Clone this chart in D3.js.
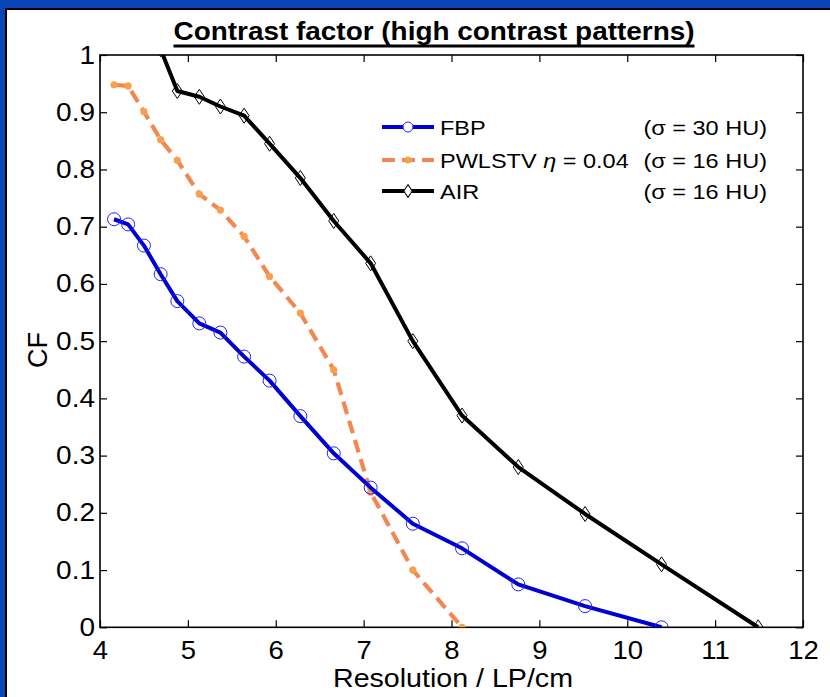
<!DOCTYPE html>
<html>
<head>
<meta charset="utf-8">
<title>Contrast factor</title>
<script src="https://d3js.org/d3.v7.min.js"></script>
<style>
html, body { margin: 0; padding: 0; background: #fff; overflow: hidden; }
svg { display: block; }
svg text { font-family: "Liberation Sans", Arial, sans-serif; fill: #000; }
.sx { transform-box: fill-box; transform-origin: center; transform: scaleX(1.1); }
.sxl { transform-box: fill-box; transform-origin: left center; transform: scaleX(1.12); }
.sxr { transform-box: fill-box; transform-origin: right center; transform: scaleX(1.12); }
.axis path { display: none; }
.axis line { stroke: #000; stroke-width: 1.2px; }
</style>
</head>
<body>
<svg id="chart" width="830" height="697"></svg>
<script>
// values
var resolution = [4.16, 4.32, 4.50, 4.69, 4.88, 5.13, 5.37, 5.64, 5.93, 6.28, 6.66, 7.08, 7.56, 8.12, 8.76, 9.52, 10.39, 11.49];
var fbp    = [0.713, 0.704, 0.667, 0.617, 0.570, 0.531, 0.515, 0.473, 0.431, 0.369, 0.304, 0.244, 0.181, 0.138, 0.075, 0.037, 0.0];
var pwlstv = [0.948, 0.946, 0.901, 0.852, 0.816, 0.757, 0.729, 0.683, 0.613, 0.549, 0.450, 0.236, 0.100, 0.0];
var air    = [1.01, 0.937, 0.927, 0.910, 0.894, 0.845, 0.785, 0.710, 0.636, 0.500, 0.370, 0.280, 0.198, 0.110, 0.0];
var airStart = 3; // AIR starts at the 4th resolution

var xTicks = [4, 5, 6, 7, 8, 9, 10, 11, 12];
var yTicks = [0, 0.1, 0.2, 0.3, 0.4, 0.5, 0.6, 0.7, 0.8, 0.9, 1];
var seriesNames = ["FBP", "PWLSTV", "AIR"];
var sigmaLabels = ["(\u03c3 = 30 HU)", "(\u03c3 = 16 HU)", "(\u03c3 = 16 HU)"];

var svg = d3.select("#chart"),
    margin = {top: 55, right: 27, bottom: 69.7, left: 100},
    W = +svg.attr("width"), H = +svg.attr("height");

var x = d3.scaleLinear().domain([4, 12]).range([margin.left, W - margin.right]);
var y = d3.scaleLinear().domain([0, 1]).range([H - margin.bottom, margin.top]);

// blue frame (top / left only, the picture is cropped)
svg.append("rect").attr("x", 0).attr("y", 0).attr("width", W).attr("height", 8).attr("fill", "#0846b8");
svg.append("rect").attr("x", 0).attr("y", 0).attr("width", 5).attr("height", H).attr("fill", "#0846b8");
svg.append("rect").attr("x", 5).attr("y", 8).attr("width", W).attr("height", 2).attr("fill", "#000");
svg.append("rect").attr("x", 5).attr("y", 8).attr("width", 2).attr("height", H).attr("fill", "#000");

// title
svg.append("text")
    .attr("x", 434).attr("y", 40)
    .attr("text-anchor", "middle")
    .attr("font-weight", "bold")
    .attr("font-size", 25)
    .attr("textLength", 521)
    .attr("lengthAdjust", "spacingAndGlyphs")
    .text("Contrast factor (high contrast patterns)");
svg.append("rect").attr("x", 434 - 260.5).attr("y", 44.5).attr("width", 521).attr("height", 3).attr("fill", "#000");

// axes
var gx = svg.append("g").attr("class", "axis")
    .attr("transform", "translate(0," + y(0) + ")")
    .call(d3.axisBottom(x).tickValues(xTicks).tickSizeInner(-7).tickSizeOuter(0).tickPadding(14).tickFormat(d3.format("d")));
gx.selectAll("text").attr("font-size", 25).attr("class", "sx");

var gy = svg.append("g").attr("class", "axis")
    .attr("transform", "translate(" + x(4) + ",0)")
    .call(d3.axisLeft(y).tickValues(yTicks).tickSizeInner(-7).tickSizeOuter(0).tickPadding(5).tickFormat(d3.format("~g")));
gy.selectAll("text").attr("font-size", 25).attr("class", "sxr");

svg.append("g").attr("class", "axis")
    .attr("transform", "translate(0," + y(1) + ")")
    .call(d3.axisTop(x).tickValues(xTicks).tickSizeInner(-7).tickSizeOuter(0).tickFormat(""));
svg.append("g").attr("class", "axis")
    .attr("transform", "translate(" + x(12) + ",0)")
    .call(d3.axisRight(y).tickValues(yTicks).tickSizeInner(-7).tickSizeOuter(0).tickFormat(""));

// box
svg.append("rect")
    .attr("x", x(4)).attr("y", y(1))
    .attr("width", x(12) - x(4)).attr("height", y(0) - y(1))
    .attr("fill", "none").attr("stroke", "#000").attr("stroke-width", 1.6);

// axis labels
svg.append("text").attr("class", "sx")
    .attr("x", 453).attr("y", 687)
    .attr("text-anchor", "middle").attr("font-size", 26)
    .text("Resolution / LP/cm");
svg.append("text")
    .attr("transform", "translate(47,350) rotate(-90)")
    .attr("text-anchor", "middle").attr("font-size", 27)
    .text("CF");

// clip to plot area
svg.append("clipPath").attr("id", "clip")
  .append("rect")
    .attr("x", x(4)).attr("y", y(1))
    .attr("width", x(12) - x(4)).attr("height", y(0) - y(1));

var plot = svg.append("g").attr("clip-path", "url(#clip)");

var line = d3.line().x(d => x(d[0])).y(d => y(d[1]));

var fbpPts = fbp.map((v, i) => [resolution[i], v]);
var pwlPts = pwlstv.map((v, i) => [resolution[i], v]);
var airPts = air.map((v, i) => [resolution[i + airStart], v]);

var fbpColor = "#0000d2", fbpMark = "#2222ff";
var pwlColor = "#f4874f", pwlMark = "#f7a050";
var airColor = "#000";

// PWLSTV
plot.append("path").datum(pwlPts)
    .attr("fill", "none").attr("stroke", pwlColor)
    .attr("stroke-width", 4.2).attr("stroke-dasharray", "13,7")
    .attr("d", line);
plot.selectAll(".pwlDot").data(pwlPts).enter().append("circle")
    .attr("class", "pwlDot")
    .attr("cx", d => x(d[0])).attr("cy", d => y(d[1]))
    .attr("r", 3.6).attr("fill", pwlMark);

// AIR
plot.append("path").datum(airPts)
    .attr("fill", "none").attr("stroke", airColor)
    .attr("stroke-width", 4).attr("stroke-linejoin", "round")
    .attr("d", line);
var diamond = "M0,-7.5L5,0L0,7.5L-5,0Z";
plot.selectAll(".airDot").data(airPts).enter().append("path")
    .attr("class", "airDot")
    .attr("transform", d => "translate(" + x(d[0]) + "," + y(d[1]) + ")")
    .attr("d", diamond)
    .attr("fill", "none").attr("stroke", "#000").attr("stroke-width", 1);

// FBP
plot.append("path").datum(fbpPts)
    .attr("fill", "none").attr("stroke", fbpColor)
    .attr("stroke-width", 4).attr("stroke-linejoin", "round")
    .attr("d", line);
plot.selectAll(".fbpDot").data(fbpPts).enter().append("circle")
    .attr("class", "fbpDot")
    .attr("cx", d => x(d[0])).attr("cy", d => y(d[1]))
    .attr("r", 6.5).attr("fill", "none").attr("stroke", fbpMark).attr("stroke-width", 1);

// legend
var legY = [127, 160, 191];
var leg = svg.append("g");
seriesNames.forEach(function(name, i) {
    var ly = legY[i];
    if (i === 1) {
        leg.append("line").attr("x1", 382).attr("x2", 434).attr("y1", ly).attr("y2", ly)
            .attr("stroke", pwlColor).attr("stroke-width", 4.2).attr("stroke-dasharray", "13,7");
        leg.append("circle").attr("cx", 408).attr("cy", ly).attr("r", 3.6).attr("fill", pwlMark);
    } else {
        var c = i === 0 ? fbpColor : airColor;
        leg.append("line").attr("x1", 382).attr("x2", 434).attr("y1", ly).attr("y2", ly)
            .attr("stroke", c).attr("stroke-width", 4);
        if (i === 0) {
            leg.append("circle").attr("cx", 408).attr("cy", ly).attr("r", 5)
                .attr("fill", "#fff").attr("stroke", fbpMark).attr("stroke-width", 1);
        } else {
            leg.append("path").attr("transform", "translate(408," + ly + ") scale(0.85)").attr("d", diamond)
                .attr("fill", "#fff").attr("stroke", "#000").attr("stroke-width", 1.2);
        }
    }
    var t = leg.append("text").attr("class", "sxl")
        .attr("x", 440).attr("y", ly).attr("dy", "0.36em").attr("font-size", 21);
    if (i === 1) {
        t.append("tspan").text("PWLSTV ");
        t.append("tspan").attr("font-style", "italic").text("\u03b7");
        t.append("tspan").text(" = 0.04");
    } else {
        t.text(name);
    }
    leg.append("text").attr("class", "sxr")
        .attr("x", 767).attr("y", ly).attr("dy", "0.36em")
        .attr("text-anchor", "end").attr("font-size", 21)
        .text(sigmaLabels[i]);
});
</script>
</body>
</html>
